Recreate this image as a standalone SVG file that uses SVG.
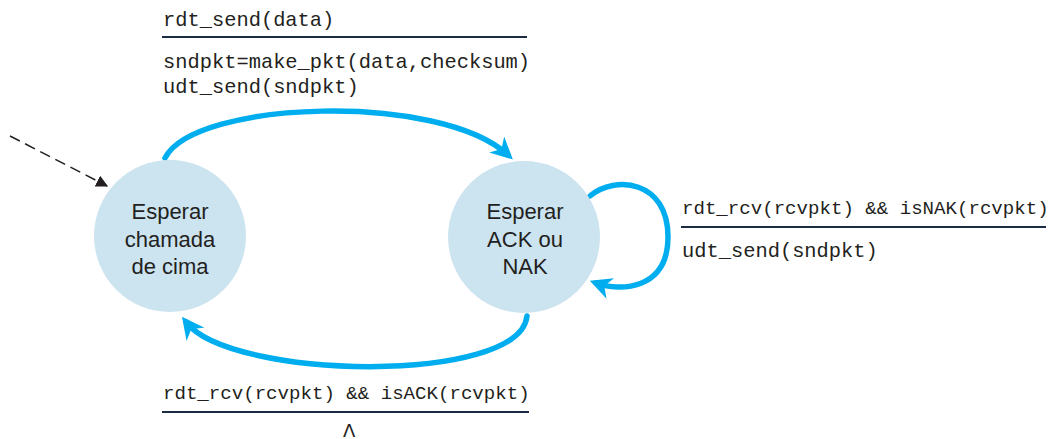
<svg xmlns="http://www.w3.org/2000/svg" width="1058" height="439" viewBox="0 0 1058 439">
<style>
.state{fill:#cce3f0;}
.lbl{font-family:"Liberation Sans",Arial,sans-serif;font-size:22px;fill:#231f20;text-anchor:middle;}
.code{font-family:"Liberation Mono","Courier New",monospace;font-size:20.4px;fill:#231f20;}
.guard{font-size:19.1px;}
.rule{stroke:#1c2b44;stroke-width:2;}
.edge{fill:none;stroke:#00aeef;stroke-width:5.5;stroke-linecap:round;}
.init{fill:none;stroke:#231f20;stroke-width:1.5;stroke-dasharray:11 6;}
</style>
<defs>
<marker id="ah" viewBox="0 0 10 10" refX="7" refY="5" markerWidth="4" markerHeight="4" orient="auto" markerUnits="strokeWidth">
<path d="M0,0 L10,5 L0,10 L3,5 Z" fill="#00aeef"/>
</marker>
<marker id="ahk" viewBox="0 0 10 10" refX="9" refY="5" markerWidth="12" markerHeight="12" orient="auto" markerUnits="userSpaceOnUse">
<path d="M0,0 L10,5 L0,10 Z" fill="#231f20"/>
</marker>
</defs>
<g id="connectors">
<line class="init" x1="10" y1="136" x2="107" y2="186" marker-end="url(#ahk)"/>
<path class="edge" d="M165,158 C195,100 440,92 508,155" marker-end="url(#ah)"/>
<path class="edge" d="M527,316 C520,385 230,380 186,322" marker-end="url(#ah)"/>
<path class="edge" d="M590,196 C615,175 668,180 668,237 C668,290 620,292 596,283" marker-end="url(#ah)"/>
</g>
<g id="node-wait-call">
<circle class="state" cx="170" cy="236" r="76"/>
<text class="lbl" x="170" y="219">Esperar</text>
<text class="lbl" x="170" y="247">chamada</text>
<text class="lbl" x="170" y="274">de cima</text>
</g>
<g id="node-wait-ack">
<circle class="state" cx="524" cy="237" r="76"/>
<text class="lbl" x="525" y="219">Esperar</text>
<text class="lbl" x="525" y="247">ACK ou</text>
<text class="lbl" x="525" y="274">NAK</text>
</g>
<g id="label-send">
<text class="code" x="163" y="26">rdt_send(data)</text>
<line class="rule" x1="162" y1="37" x2="527" y2="37"/>
<text class="code" x="163" y="68">sndpkt=make_pkt(data,checksum)</text>
<text class="code" x="163" y="93">udt_send(sndpkt)</text>
</g>
<g id="label-nak">
<text class="code guard" x="682" y="214">rdt_rcv(rcvpkt) &amp;&amp; isNAK(rcvpkt)</text>
<line class="rule" x1="681" y1="227" x2="1046" y2="227"/>
<text class="code" x="682" y="257">udt_send(sndpkt)</text>
</g>
<g id="label-ack">
<text class="code guard" x="163" y="399">rdt_rcv(rcvpkt) &amp;&amp; isACK(rcvpkt)</text>
<line class="rule" x1="162" y1="412" x2="529" y2="412"/>
<text class="code" x="343" y="437" style="font-family:'DejaVu Sans',sans-serif;font-size:18px">Λ</text>
</g>
</svg>
